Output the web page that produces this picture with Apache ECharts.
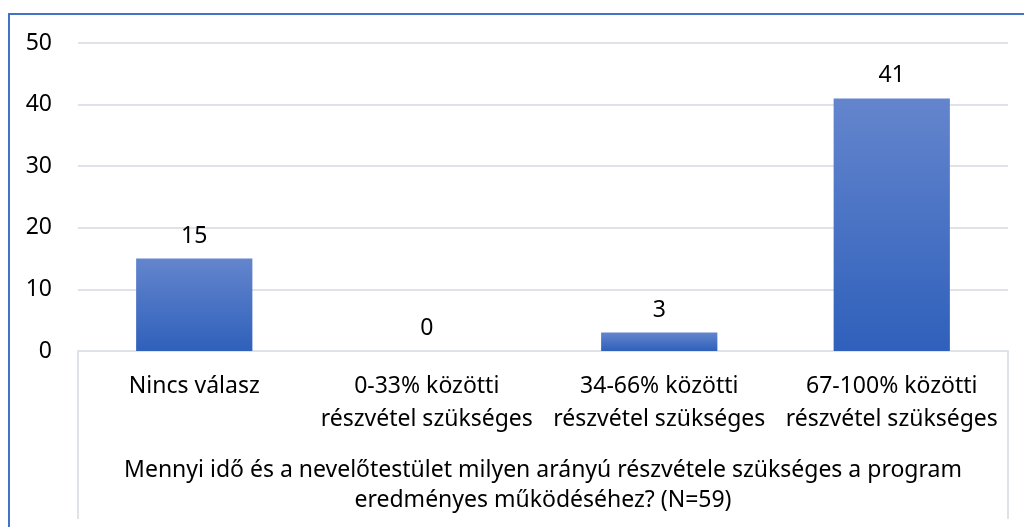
<!DOCTYPE html>
<html><head><meta charset="utf-8">
<script src="https://cdn.jsdelivr.net/npm/echarts@6/dist/echarts.min.js"></script>
<style>html,body{margin:0;padding:0;background:#fff;}#c{width:1024px;height:527px;}</style>
</head><body><div id="c"></div>
<script>
const categories = ['Nincs válasz', '0-33% közötti\nrészvétel szükséges', '34-66% közötti\nrészvétel szükséges', '67-100% közötti\nrészvétel szükséges'];
const values = [15, 0, 3, 41];
const axisTitle = 'Mennyi idő és a nevelőtestület milyen arányú részvétele szükséges a program\neredményes működéséhez? (N=59)';
const yTicks = [0, 10, 20, 30, 40, 50];

const FONT = '"Noto Sans", sans-serif';
const chart = echarts.init(document.getElementById('c'), null, {renderer: 'canvas'});
const option = {
  animation: false,
  backgroundColor: '#fff',
  grid: {left: 78, right: 16, top: 43, bottom: 176, containLabel: false},
  xAxis: {
    type: 'category', data: categories,
    axisLine: {show: true, lineStyle: {color: '#dfe3e8', width: 2}},
    axisTick: {show: false},
    axisLabel: {color: '#000', fontFamily: FONT, fontSize: 23, lineHeight: 33, margin: 19, interval: 0},
    name: axisTitle, nameLocation: 'middle', nameGap: 104,
    nameTextStyle: {color: '#000', fontFamily: FONT, fontSize: 23, lineHeight: 30}
  },
  yAxis: {
    type: 'value', min: yTicks[0], max: yTicks[yTicks.length - 1], interval: 10,
    axisLine: {show: false}, axisTick: {show: false},
    axisLabel: {color: '#000', fontFamily: FONT, fontSize: 23, margin: 26},
    splitLine: {lineStyle: {color: '#dfe3e8', width: 2}}
  },
  series: [{
    type: 'bar', data: values, barWidth: '50%',
    itemStyle: {color: new echarts.graphic.LinearGradient(0, 0, 0, 1, [
      {offset: 0, color: '#6485cd'}, {offset: 1, color: '#2f60bb'}])},
    label: {show: true, position: 'top', distance: 11, color: '#000', fontFamily: FONT, fontSize: 23}
  }]
};
chart.setOption(option);
// decorative frame and category-area side lines
const gridRect = chart.getModel().getComponent('grid').coordinateSystem.getRect();
chart.setOption({graphic: [
  {type: 'rect', shape: {x: 9, y: 14, width: 1100, height: 700}, style: {fill: null, stroke: '#4472c4', lineWidth: 2}},
  {type: 'line', shape: {x1: gridRect.x, y1: gridRect.y + gridRect.height, x2: gridRect.x, y2: 519}, style: {stroke: '#dfe3e8', lineWidth: 2}},
  {type: 'line', shape: {x1: gridRect.x + gridRect.width, y1: gridRect.y + gridRect.height, x2: gridRect.x + gridRect.width, y2: 519}, style: {stroke: '#dfe3e8', lineWidth: 2}}
]});
</script></body></html>
